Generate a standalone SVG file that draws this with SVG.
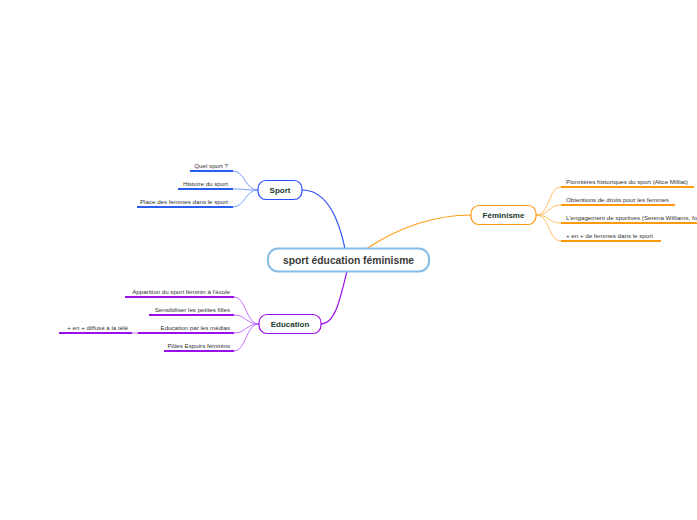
<svg xmlns="http://www.w3.org/2000/svg" width="697" height="520" viewBox="0 0 697 520">
<style>
.t{font-family:"Liberation Sans",Arial,sans-serif;font-size:6.2px;fill:#333}
.n{font-family:"Liberation Sans",Arial,sans-serif;font-size:8px;font-weight:bold;fill:#1b3a2c;text-anchor:middle}
.c{font-family:"Liberation Sans",Arial,sans-serif;font-size:10.3px;font-weight:bold;fill:#3a3a3a;text-anchor:middle}
.r{text-anchor:end}
.ub{stroke:#2a5cf0;stroke-width:2;fill:none}
.uo{stroke:#ff9a10;stroke-width:2;fill:none}
.up{stroke:#9a10e8;stroke-width:2;fill:none}
.lb{stroke:#7c9cff;stroke-width:1;fill:none}
.lo{stroke:#ffc060;stroke-width:1;fill:none}
.lp{stroke:#c070ff;stroke-width:1;fill:none}
</style>
<rect width="697" height="520" fill="#fff"/>
<g id="connectors">
<path d="M345 249 C338 215 325 190 302 190" stroke="#2a4cff" stroke-width="1.2" fill="none"/>
<path d="M366 249 C395 230 430 215 471 215" stroke="#ff9a10" stroke-width="1.2" fill="none"/>
<path d="M347 271 C340 300 335 324 321 324" stroke="#9a10e8" stroke-width="1.2" fill="none"/>
<path class="lb" d="M258 190 C245 190 245 171 233 171"/>
<path class="lb" d="M258 190 C245 190 245 189 233 189"/>
<path class="lb" d="M258 190 C245 190 245 207 233 207"/>
<path class="lo" d="M536 215 C550 215 548 187 561 187"/>
<path class="lo" d="M536 215 C550 215 548 205 561 205"/>
<path class="lo" d="M536 215 C550 215 548 223 561 223"/>
<path class="lo" d="M536 215 C550 215 548 241 561 241"/>
<path class="lp" d="M259 324 C246 324 246 297 234 297"/>
<path class="lp" d="M259 324 C246 324 246 315 234 315"/>
<path class="lp" d="M259 324 C246 324 246 333 234 333"/>
<path class="lp" d="M259 324 C246 324 246 351 234 351"/>
<path class="lp" d="M138 333 L132 333"/>
</g>
<g id="central">
<rect x="268" y="248.5" width="161" height="23" rx="10" fill="#fff" stroke="#86bde6" stroke-width="2"/>
<text class="c" x="348.5" y="263.5">sport éducation féminisme</text>
</g>
<g id="sport">
<rect x="258" y="180.5" width="44" height="19" rx="8" fill="#fff" stroke="#2a4cff" stroke-width="1.2"/>
<text class="n" x="280" y="193">Sport</text>
</g>
<g id="sport-c1"><text class="t r" x="228" y="168">Quel sport ?</text><path class="ub" d="M190 171 H233"/></g>
<g id="sport-c2"><text class="t r" x="228" y="186">Histoire du sport</text><path class="ub" d="M178 189 H233"/></g>
<g id="sport-c3"><text class="t r" x="228" y="204">Place des femmes dans le sport</text><path class="ub" d="M137 207 H233"/></g>
<g id="feminisme">
<rect x="471" y="205.5" width="65" height="19" rx="8" fill="#fff" stroke="#ff9a10" stroke-width="1.2"/>
<text class="n" x="503.5" y="218">Féminisme</text>
</g>
<g id="fem-c1"><text class="t" x="566" y="184">Pionnières historiques du sport (Alice Milliat)</text><path class="uo" d="M561 187 H694"/></g>
<g id="fem-c2"><text class="t" x="566" y="202">Obtentions de droits pour les femmes</text><path class="uo" d="M561 205 H675"/></g>
<g id="fem-c3"><text class="t" x="566" y="220">L'engagement de sportives (Serena Williams, fo</text><path class="uo" d="M561 223 H697"/></g>
<g id="fem-c4"><text class="t" x="566" y="238">+ en + de femmes dans le sport</text><path class="uo" d="M561 241 H661"/></g>
<g id="education">
<rect x="259" y="314.5" width="62" height="19" rx="8" fill="#fff" stroke="#9a10e8" stroke-width="1.2"/>
<text class="n" x="290" y="327">Education</text>
</g>
<g id="edu-c1"><text class="t r" x="230" y="294">Apparition du sport féminin à l'école</text><path class="up" d="M125 297 H234"/></g>
<g id="edu-c2"><text class="t r" x="230" y="312">Sensibiliser les petites filles</text><path class="up" d="M149 315 H234"/></g>
<g id="edu-c3"><text class="t r" x="230" y="330">Education par les médias</text><path class="up" d="M138 333 H234"/></g>
<g id="edu-c3-1"><text class="t r" x="128" y="330">+ en + diffusé à la télé</text><path class="up" d="M59 333 H132"/></g>
<g id="edu-c4"><text class="t r" x="230" y="348">Pôles Espoirs féminins</text><path class="up" d="M164 351 H234"/></g>
</svg>
